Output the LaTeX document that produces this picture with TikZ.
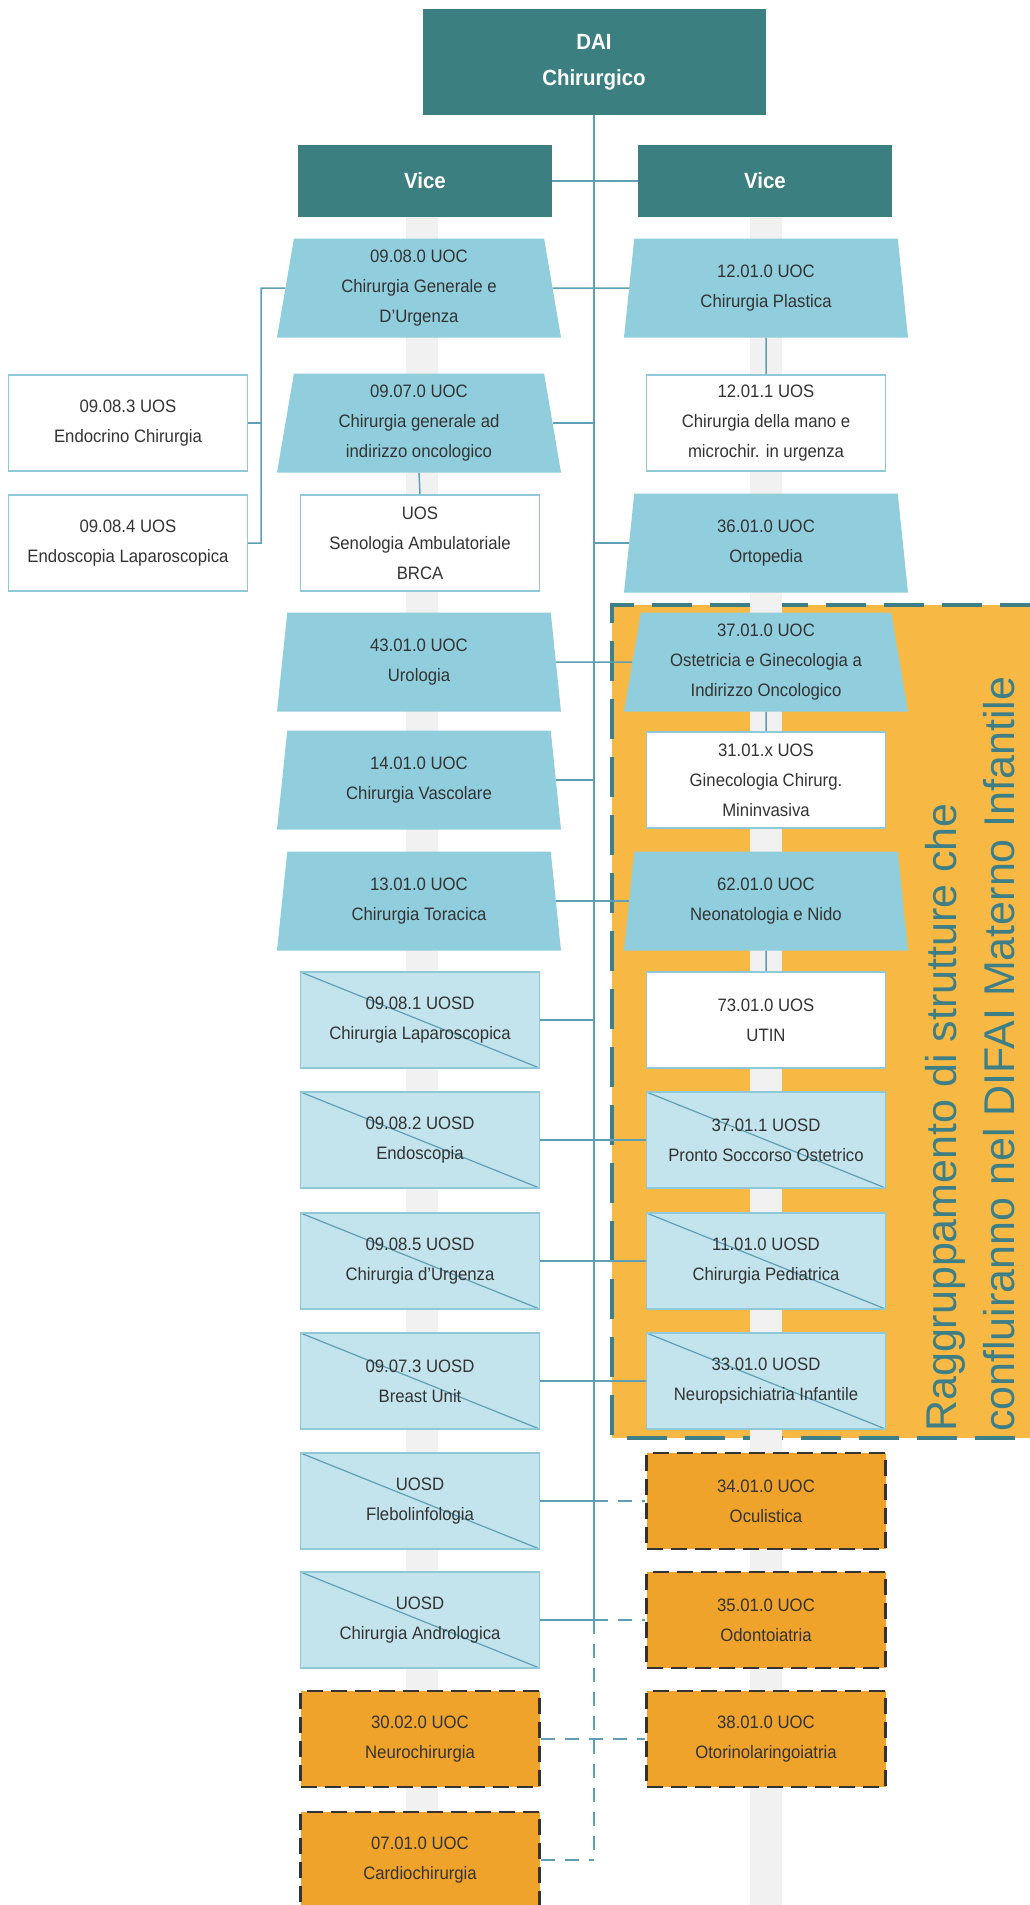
\documentclass[tikz,border=0pt]{standalone}
\usepackage{fontspec}
\setmainfont{Liberation Sans}[FakeStretch=0.93]
\newfontfamily\bannerfont{Liberation Sans}
\usetikzlibrary{shapes.geometric}

\definecolor{headteal}{HTML}{3B7F80}
\definecolor{uocblue}{HTML}{91CEDD}
\definecolor{uosdblue}{HTML}{C3E4EC}
\definecolor{lineblue}{HTML}{5E9FB5}
\definecolor{edgeblue}{HTML}{8FC8D8}
\definecolor{mifill}{HTML}{F7B944}
\definecolor{extfill}{HTML}{F0A32A}
\definecolor{miteal}{HTML}{3E7F87}
\definecolor{textgray}{HTML}{333333}
\definecolor{bandgray}{HTML}{F1F1F1}

\pgfdeclarelayer{back}
\pgfsetlayers{back,main}

\newcommand{\boxtextfont}{\fontsize{18}{30}\selectfont}
\newcommand{\headtextfont}{\fontsize{22}{36}\selectfont\bfseries}

\begin{document}
\begin{tikzpicture}[
  x=1pt, y=-1pt,
  every node/.style={
    text=textgray,
    align=center,
    font=\boxtextfont
  },
  head box/.style={
    rectangle,
    fill=headteal,
    text=white,
    font=\headtextfont,
    inner sep=0pt
  },
  uoc box/.style={
    trapezium,
    trapezium angle=77.5,
    trapezium stretches body=true,
    fill=uocblue,
    minimum width=284pt,
    minimum height=99pt,
    inner sep=0pt
  },
  uos box/.style={
    rectangle,
    fill=white,
    draw=edgeblue,
    line width=1.2pt,
    minimum width=239pt,
    minimum height=96pt,
    inner sep=0pt
  },
  uosd box/.style={
    uos box,
    fill=uosdblue,
    path picture={
      \draw[lineblue, line width=1.2pt]
        (path picture bounding box.north west) --
        (path picture bounding box.south east);
    }
  },
  ext box/.style={
    rectangle,
    fill=extfill,
    draw=black!80,
    line width=2.5pt,
    dash pattern=on 16pt off 8pt,
    minimum width=239pt,
    minimum height=96pt,
    inner sep=0pt
  },
  link/.style={
    draw=lineblue,
    line width=1.5pt
  },
  dashed link/.style={
    link,
    dash pattern=on 14pt off 10pt
  },
]
\useasboundingbox (0,0) rectangle (1030,1905);

\begin{pgfonlayer}{back}
  \fill[mifill] (612,605) rectangle (1040,1438);
  \draw[miteal, line width=4pt, dash pattern=on 40pt off 18pt]
    (1040,605) -- (612,605) -- (612,1438) -- (1040,1438);
  \fill[bandgray] (406,217) rectangle (438,1905);
  \fill[bandgray] (750,217) rectangle (782,1905);
\end{pgfonlayer}

\node[rotate=90, anchor=west, inner sep=0pt, align=left, text=miteal,
  font=\bannerfont\fontsize{43}{58}\selectfont] (banner) at (970,1432)
  {Raggruppamento di strutture che\\confluiranno nel DIFAI Materno Infantile};

\node[head box, minimum width=343pt, minimum height=106pt] (dai) at (594,62) {DAI\\Chirurgico};
\node[head box, minimum width=254pt, minimum height=72pt] (vicel) at (425,181) {Vice};
\node[head box, minimum width=254pt, minimum height=72pt] (vicer) at (765,181) {Vice};

% colonna sinistra
\node[uoc box] (c0908) at (419,288) {09.08.0 UOC\\Chirurgia Generale e\\D'Urgenza};
\node[uoc box] (c0907) at (419,423) {09.07.0 UOC\\Chirurgia generale ad\\indirizzo oncologico};
\node[uos box] (s0907) at (420,543) {UOS\\Senologia Ambulatoriale\\BRCA};
\node[uoc box] (c4301) at (419,662) {43.01.0 UOC\\Urologia};
\node[uoc box] (c1401) at (419,780) {14.01.0 UOC\\Chirurgia Vascolare};
\node[uoc box] (c1301) at (419,901) {13.01.0 UOC\\Chirurgia Toracica};
\node[uosd box] (d0908a) at (420,1020) {09.08.1 UOSD\\Chirurgia Laparoscopica};
\node[uosd box] (d0908b) at (420,1140) {09.08.2 UOSD\\Endoscopia};
\node[uosd box] (d0908e) at (420,1261) {09.08.5 UOSD\\Chirurgia d'Urgenza};
\node[uosd box] (d0907) at (420,1381) {09.07.3 UOSD\\Breast Unit};
\node[uosd box] (dfleb) at (420,1501) {UOSD\\Flebolinfologia};
\node[uosd box] (dandro) at (420,1620) {UOSD\\Chirurgia Andrologica};
\node[ext box] (e3002) at (420,1739) {30.02.0 UOC\\Neurochirurgia};
\node[ext box] (e0701) at (420,1860) {07.01.0 UOC\\Cardiochirurgia};

\node[uos box] (s0908c) at (128,423) {09.08.3 UOS\\Endocrino Chirurgia};
\node[uos box] (s0908d) at (128,543) {09.08.4 UOS\\Endoscopia Laparoscopica};

% colonna destra
\node[uoc box] (c1201) at (766,288) {12.01.0 UOC\\Chirurgia Plastica};
\node[uos box] (s1201) at (766,423) {12.01.1 UOS\\Chirurgia della mano e\\microchir. in urgenza};
\node[uoc box] (c3601) at (766,543) {36.01.0 UOC\\Ortopedia};
\node[uoc box] (c3701) at (766,662) {37.01.0 UOC\\Ostetricia e Ginecologia a\\Indirizzo Oncologico};
\node[uos box] (s3101) at (766,780) {31.01.x UOS\\Ginecologia Chirurg.\\Mininvasiva};
\node[uoc box] (c6201) at (766,901) {62.01.0 UOC\\Neonatologia e Nido};
\node[uos box] (s7301) at (766,1020) {73.01.0 UOS\\UTIN};
\node[uosd box] (d3701) at (766,1140) {37.01.1 UOSD\\Pronto Soccorso Ostetrico};
\node[uosd box] (d1101) at (766,1261) {11.01.0 UOSD\\Chirurgia Pediatrica};
\node[uosd box] (d3301) at (766,1381) {33.01.0 UOSD\\Neuropsichiatria Infantile};
\node[ext box] (e3401) at (766,1501) {34.01.0 UOC\\Oculistica};
\node[ext box] (e3501) at (766,1620) {35.01.0 UOC\\Odontoiatria};
\node[ext box] (e3801) at (766,1739) {38.01.0 UOC\\Otorinolaringoiatria};

\coordinate (lbus) at (261,288);
\coordinate (tend) at (594,1860);

\begin{pgfonlayer}{back}
  \draw[link] (dai.south) -- (dai.south |- dandro.east);
  \draw[dashed link] (dai.south |- dandro.east) -- (tend);
  \draw[link] (vicel.east) -- (vicer.west);
  \draw[link] (c0908.east) -- (c1201.west);
  \draw[link] (c0908.west) -- (lbus) |- (s0908d.east);
  \draw[link] (s0908c.east) -- (s0908c.east -| lbus);
  \draw[link] (c0907.east) -- (c0907.east -| tend);
  \draw[link] (c0907.south) -- (s0907.north);
  \draw[link] (c1201.south) -- (s1201.north);
  \draw[link] (c3601.west) -- (c3601.west -| tend);
  \draw[link] (c4301.east) -- (c3701.west);
  \draw[link] (c3701.south) -- (s3101.north);
  \draw[link] (c1401.east) -- (c1401.east -| tend);
  \draw[link] (c1301.east) -- (c6201.west);
  \draw[link] (c6201.south) -- (s7301.north);
  \draw[link] (d0908a.east) -- (d0908a.east -| tend);
  \draw[link] (d0908b.east) -- (d3701.west);
  \draw[link] (d0908e.east) -- (d1101.west);
  \draw[link] (d0907.east) -- (d3301.west);
  \draw[link] (dfleb.east) -- (dfleb.east -| tend);
  \draw[dashed link] (dfleb.east -| tend) -- (e3401.west);
  \draw[link] (dandro.east) -- (dandro.east -| tend);
  \draw[dashed link] (dandro.east -| tend) -- (e3501.west);
  \draw[dashed link] (e3002.east) -- (e3801.west);
  \draw[dashed link] (e0701.east) -- (tend);
\end{pgfonlayer}
\end{tikzpicture}
\end{document}
